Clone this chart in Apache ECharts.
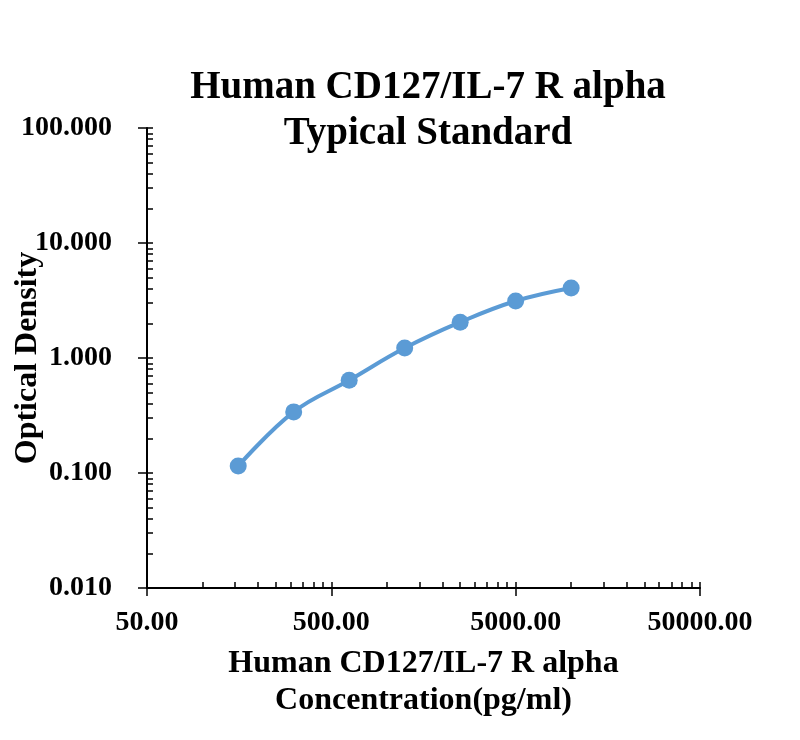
<!DOCTYPE html>
<html>
<head>
<meta charset="utf-8">
<script src="https://cdn.jsdelivr.net/npm/echarts@6/dist/echarts.min.js"></script>
<style>
  html, body { margin: 0; padding: 0; background: #fff; }
  #chart { width: 800px; height: 740px; }
</style>
</head>
<body>
<div id="chart"></div>
<script>
// standard curve points
var concentration = [156.25, 312.5, 625, 1250, 2500, 5000, 10000];
var opticalDensity = [0.115, 0.340, 0.640, 1.220, 2.050, 3.130, 4.060];

// axis ticks
var xMajorTicks = [50, 500, 5000, 50000];
var xMinorTicks = [100, 150, 200, 250, 300, 350, 400, 450,
                   1000, 1500, 2000, 2500, 3000, 3500, 4000, 4500,
                   10000, 15000, 20000, 25000, 30000, 35000, 40000, 45000];
var yMajorTicks = [0.01, 0.1, 1, 10, 100];
var yMinorTicks = [0.02, 0.03, 0.04, 0.05, 0.06, 0.07, 0.08, 0.09,
                   0.2, 0.3, 0.4, 0.5, 0.6, 0.7, 0.8, 0.9,
                   2, 3, 4, 5, 6, 7, 8, 9,
                   20, 30, 40, 50, 60, 70, 80, 90];

var font = 'Liberation Serif, Times New Roman, serif';
var ink = '#000';

var points = concentration.map(function(c, i){ return [c, opticalDensity[i]]; });

var chart = echarts.init(document.getElementById('chart'), null, {renderer: 'canvas'});

chart.setOption({
  backgroundColor: '#fff',
  animation: false,
  title: {
    text: 'Human CD127/IL-7 R alpha\nTypical Standard',
    left: 423,
    top: 60,
    textAlign: 'center',
    textStyle: {
      fontFamily: font,
      fontWeight: 'bold',
      fontSize: 39,
      lineHeight: 46,
      color: ink
    }
  },
  grid: {
    left: 147,
    right: 100,
    top: 128,
    bottom: 152,
    containLabel: false,
    outerBoundsMode: 'none'
  },
  xAxis: [
    {
      type: 'log',
      logBase: 10,
      min: 50,
      max: 50000,
      position: 'bottom',
      name: 'Human CD127/IL-7 R alpha\nConcentration(pg/ml)',
      nameLocation: 'middle',
      nameGap: 57,
      nameMoveOverlap: false,
      nameTextStyle: {
        fontFamily: font,
        fontWeight: 'bold',
        fontSize: 32,
        lineHeight: 37,
        color: ink
      },
      axisLine: { show: true, lineStyle: { color: ink, width: 2 } },
      axisTick: {
        show: true,
        length: 8,
        customValues: xMajorTicks,
        lineStyle: { color: ink, width: 1.5 }
      },
      axisLabel: {
        customValues: xMajorTicks,
        margin: 21,
        fontFamily: font,
        fontWeight: 'bold',
        fontSize: 28,
        color: ink,
        formatter: function(v){ return Number(v).toFixed(2); }
      },
      splitLine: { show: false },
      minorTick: { show: false }
    },
    {
      // inside ticks (major + minor)
      type: 'log',
      logBase: 10,
      min: 50,
      max: 50000,
      position: 'bottom',
      axisLine: { show: false },
      axisTick: {
        show: true,
        inside: true,
        length: 6,
        customValues: xMajorTicks.concat(xMinorTicks),
        lineStyle: { color: ink, width: 1.5 }
      },
      axisLabel: { show: false },
      splitLine: { show: false }
    }
  ],
  yAxis: [
    {
      type: 'log',
      logBase: 10,
      min: 0.01,
      max: 100,
      position: 'left',
      name: 'Optical Density',
      nameLocation: 'middle',
      nameGap: 103,
      nameMoveOverlap: false,
      nameRotate: 90,
      nameTextStyle: {
        fontFamily: font,
        fontWeight: 'bold',
        fontSize: 32,
        color: ink
      },
      axisLine: { show: true, lineStyle: { color: ink, width: 2 } },
      axisTick: {
        show: true,
        length: 9,
        customValues: yMajorTicks,
        lineStyle: { color: ink, width: 1.5 }
      },
      axisLabel: {
        customValues: yMajorTicks,
        margin: 35,
        fontFamily: font,
        fontWeight: 'bold',
        fontSize: 28,
        color: ink,
        formatter: function(v){ return Number(v).toFixed(3); }
      },
      splitLine: { show: false }
    },
    {
      type: 'log',
      logBase: 10,
      min: 0.01,
      max: 100,
      position: 'left',
      axisLine: { show: false },
      axisTick: {
        show: true,
        inside: true,
        length: 6,
        customValues: yMajorTicks.concat(yMinorTicks),
        lineStyle: { color: ink, width: 1.5 }
      },
      axisLabel: { show: false },
      splitLine: { show: false }
    }
  ],
  series: [
    {
      name: 'Standard',
      type: 'line',
      xAxisIndex: 0,
      yAxisIndex: 0,
      data: points,
      smooth: 0.4,
      symbol: 'circle',
      symbolSize: 17,
      lineStyle: { color: '#5b9bd5', width: 4 },
      itemStyle: { color: '#5b9bd5' },
      z: 3
    }
  ]
});
</script>
</body>
</html>
